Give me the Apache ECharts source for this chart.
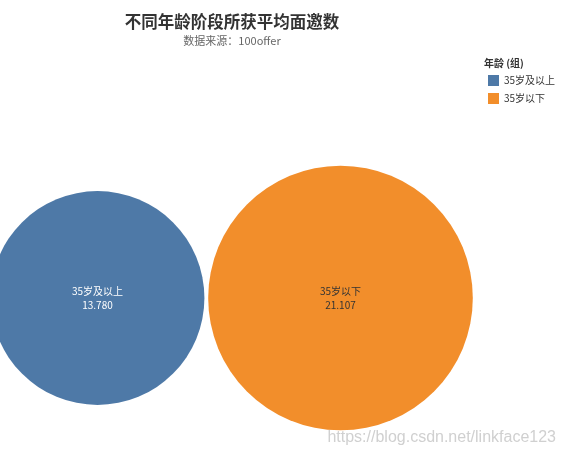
<!DOCTYPE html>
<html>
<head>
<meta charset="utf-8">
<script src="https://cdn.jsdelivr.net/npm/echarts@6/dist/echarts.min.js"></script>
<style>
  html, body { margin: 0; padding: 0; background: #fff; }
  #chart { width: 563px; height: 458px; }
</style>
</head>
<body>
<div id="chart"></div>
<script>
var groups = ['35岁及以上', '35岁以下'];   // 年龄 (组)
var avgInvites = [13.780, 21.107];          // 平均面邀数
var colors = ['#4e79a7', '#f28e2b'];
var labelColors = ['#ffffff', '#333333'];
var rowName = ['平均面邀数'];

var font = '"Noto Sans CJK SC", "Noto Sans", sans-serif';
var sizeScale = 57.6; // bubble diameter per sqrt(value)

var series = groups.map(function (g, i) {
    return {
        name: g,
        type: 'scatter',
        data: [{ name: g, value: [i, 0, avgInvites[i]] }],
        symbolSize: function (d) { return sizeScale * Math.sqrt(d[2]); },
        itemStyle: { color: colors[i], opacity: 1 },
        label: {
            show: true,
            position: 'inside',
            color: labelColors[i],
            fontFamily: font,
            fontSize: 10,
            lineHeight: 14,
            formatter: function (p) { return p.name + '\n' + p.value[2].toFixed(3); }
        },
        emphasis: { disabled: true }
    };
});

var chart = echarts.init(document.getElementById('chart'));
chart.setOption({
    animation: false,
    title: {
        text: '不同年龄阶段所获平均面邀数',
        subtext: '数据来源：100offer',
        left: 227,
        textAlign: 'center',
        top: 8,
        itemGap: 6,
        textStyle: { fontFamily: font, fontSize: 16.5, fontWeight: 'bold', color: '#333' },
        subtextStyle: { fontFamily: font, fontSize: 11, color: '#666' }
    },
    legend: {
        data: groups,
        orient: 'vertical',
        left: 483,
        top: 70,
        icon: 'rect',
        itemWidth: 11,
        itemHeight: 11,
        itemGap: 7,
        textStyle: { fontFamily: font, fontSize: 10, color: '#333' }
    },
    graphic: [
        {
            type: 'text', left: 484, top: 58,
            style: { text: '年龄 (组)', font: 'bold 10px ' + font, fill: '#333' }
        },
        {
            type: 'text', right: 7, top: 430,
            style: { text: 'https://blog.csdn.net/linkface123', font: '16px "Liberation Sans", sans-serif', fill: '#d0d0d0' }
        }
    ],
    grid: { left: -24, width: 486, top: 198, height: 200, outerBoundsMode: 'none' },
    xAxis: { type: 'category', data: groups, show: false },
    yAxis: { type: 'category', data: rowName, show: false },
    series: series
});
</script>
</body>
</html>
